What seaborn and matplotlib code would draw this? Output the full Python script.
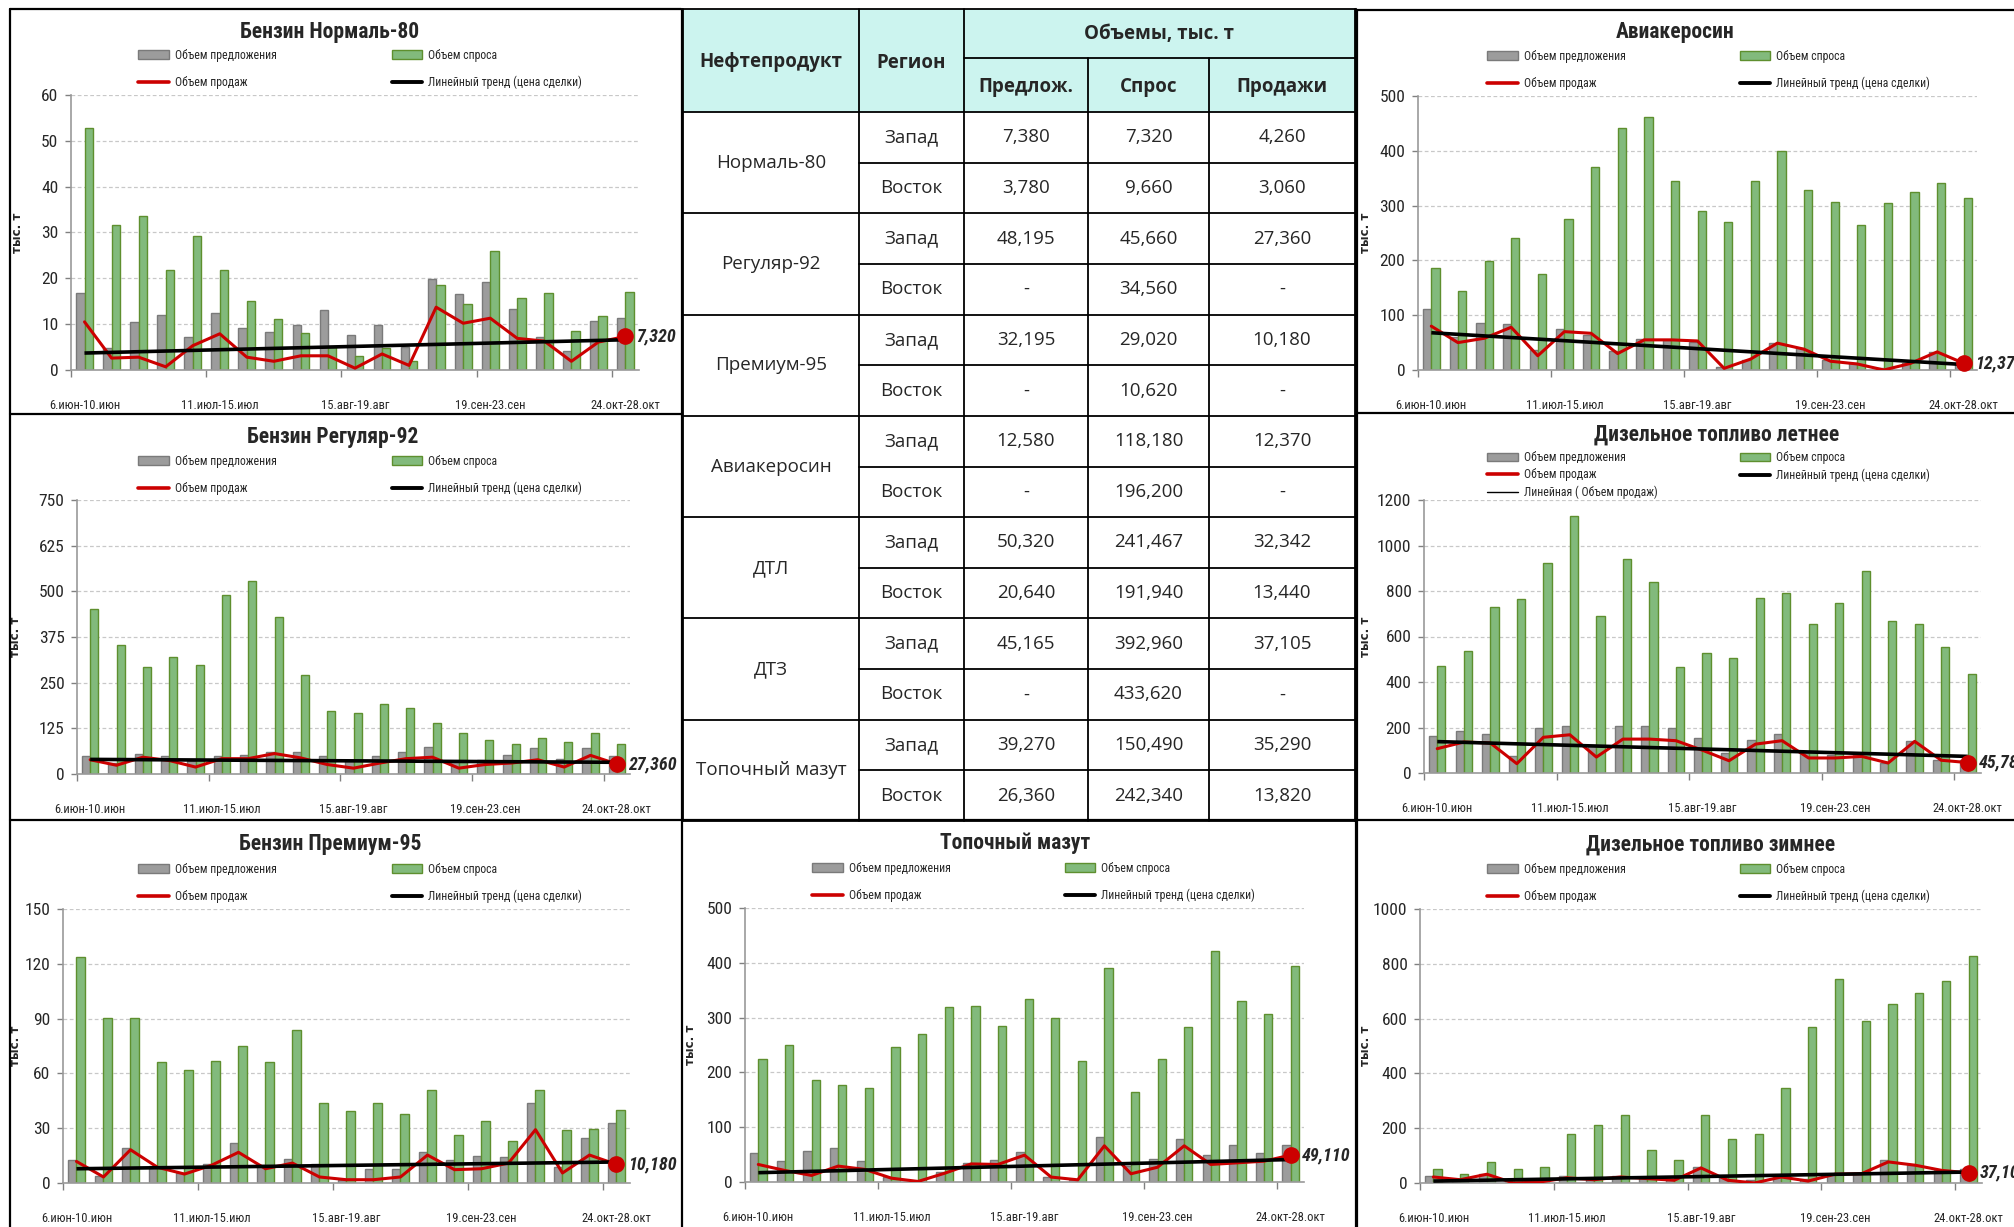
import numpy as np
import pandas as pd
import matplotlib
matplotlib.use("Agg")
import matplotlib.pyplot as plt
import seaborn as sns
from matplotlib.lines import Line2D
from matplotlib.patches import Patch, Rectangle

sns.set_theme(style="white")
plt.rcParams["font.family"] = ["Liberation Sans Narrow", "Roboto Condensed",
                               "DejaVu Sans Condensed", "Roboto", "DejaVu Sans"]
plt.rcParams["font.stretch"] = "condensed"

# ── Data ────────────────────────────────────────────────────────────────
weeks = ["6.июн-10.июн", "13.июн-17.июн", "20.июн-24.июн", "27.июн-1.июл",
         "4.июл-8.июл", "11.июл-15.июл", "18.июл-22.июл", "25.июл-29.июл",
         "1.авг-5.авг", "8.авг-12.авг", "15.авг-19.авг", "22.авг-26.авг",
         "29.авг-2.сен", "5.сен-9.сен", "12.сен-16.сен", "19.сен-23.сен",
         "26.сен-30.сен", "3.окт-7.окт", "10.окт-14.окт", "17.окт-21.окт",
         "24.окт-28.окт"]

n80_offer = [16.9, 4.8, 10.5, 11.9, 7.2, 12.5, 9.2, 8.3, 9.9, 13.0, 7.7,
             9.9, 5.0, 19.8, 16.5, 19.2, 13.2, 7.2, 4.2, 10.7, 11.3]
n80_demand = [52.8, 31.6, 33.6, 21.9, 29.2, 21.9, 15.1, 11.2, 8.0, 5.0, 3.0,
              4.8, 2.0, 18.6, 14.3, 26.0, 15.6, 16.9, 8.6, 11.8, 17.1]
n80_sales = [10.5, 2.6, 2.8, 0.7, 5.3, 7.9, 2.8, 1.9, 3.1, 3.1, 0.4,
             3.5, 1.0, 13.7, 10.2, 11.3, 6.9, 6.3, 1.9, 6.1, 7.32]
n80_trend = [3.7, 6.6]

r92_offer = [48, 30, 56, 48, 35, 48, 52, 61, 60, 48, 39,
             48, 60, 74, 35, 39, 52, 71, 41, 71, 48]
r92_demand = [452, 353, 294, 320, 298, 489, 529, 430, 272, 173, 166,
              191, 180, 139, 111, 92, 82, 99, 88, 111, 81]
r92_sales = [39, 24, 46, 37, 19, 42, 42, 56, 44, 26, 16,
             30, 42, 46, 16, 26, 30, 39, 19, 51, 27.36]
r92_trend = [40, 32]

p95_offer = [12.8, 4.0, 19.1, 9.1, 5.5, 10.4, 21.7, 10.0, 13.3, 10.4, 1.8,
             7.7, 7.7, 17.1, 12.8, 14.8, 14.2, 43.6, 9.0, 24.6, 32.6]
p95_demand = [123.6, 90.6, 90.6, 66.3, 61.8, 67.0, 75.0, 66.3, 83.8, 43.6, 39.2,
              43.6, 37.7, 50.8, 26.1, 33.9, 23.0, 50.8, 28.8, 29.5, 39.7]
p95_sales = [11.8, 3.3, 18.2, 8.6, 4.9, 9.7, 16.8, 7.8, 10.9, 3.3, 1.8,
             1.8, 3.3, 15.3, 7.3, 7.8, 10.9, 29.2, 5.5, 15.3, 10.18]
p95_trend = [7.8, 11.5]

avia_offer = [111, 61, 86, 84, 36, 74, 64, 35, 57, 55, 52,
              6, 18, 50, 40, 18, 12, 3, 12, 32, 12]
avia_demand = [187, 145, 199, 240, 175, 275, 371, 442, 461, 344, 290,
               270, 344, 400, 329, 307, 265, 304, 324, 341, 314]
avia_sales = [80, 50, 58, 78, 26, 70, 67, 30, 55, 55, 53,
              3, 20, 49, 38, 16, 11, 0, 12, 33, 12.37]
avia_trend = [68, 10]

dtl_offer = [164, 183, 171, 76, 199, 206, 124, 206, 206, 199, 152,
             88, 146, 171, 88, 80, 80, 44, 139, 59, 59]
dtl_demand = [470, 536, 729, 765, 925, 1130, 688, 942, 841, 464, 528,
              505, 770, 793, 653, 748, 888, 670, 653, 552, 435]
dtl_sales = [107, 136, 132, 41, 157, 168, 70, 149, 149, 142, 100,
             54, 127, 142, 66, 66, 73, 44, 139, 56, 45.78]
dtl_trend = [138, 73]

maz_offer = [53, 38, 57, 62, 38, 10, 1, 18, 35, 40, 55,
             10, 4, 82, 29, 42, 79, 50, 67, 53, 67]
maz_demand = [224, 250, 187, 177, 172, 246, 270, 319, 322, 285, 334,
              300, 221, 390, 165, 224, 283, 422, 330, 307, 395]
maz_sales = [32, 21, 12, 29, 23, 7, 1, 16, 33, 32, 49,
             9, 4, 66, 15, 27, 66, 32, 35, 38, 49.11]
maz_trend = [17, 41]

dtz_offer = [24, 16, 34, 10, 10, 24, 19, 24, 19, 16, 58,
             28, 10, 28, 16, 34, 34, 83, 65, 46, 52]
dtz_demand = [52, 34, 77, 52, 57, 180, 211, 250, 121, 83, 250,
              160, 180, 347, 568, 744, 592, 652, 692, 739, 828]
dtz_sales = [22, 12, 32, 0, 4, 19, 12, 22, 16, 10, 55,
             10, 0, 22, 7, 32, 34, 77, 65, 46, 37.105]
dtz_trend = [7, 40]

# summary table
tbl_products = ["Нормаль-80", "Регуляр-92", "Премиум-95", "Авиакеросин",
                "ДТЛ", "ДТЗ", "Топочный мазут"]
tbl_regions = ["Запад", "Восток"]
tbl_offer = ["7,380", "3,780", "48,195", "-", "32,195", "-", "12,580", "-",
             "50,320", "20,640", "45,165", "-", "39,270", "26,360"]
tbl_demand = ["7,320", "9,660", "45,660", "34,560", "29,020", "10,620",
              "118,180", "196,200", "241,467", "191,940", "392,960",
              "433,620", "150,490", "242,340"]
tbl_sales = ["4,260", "3,060", "27,360", "-", "10,180", "-", "12,370", "-",
             "32,342", "13,440", "37,105", "-", "35,290", "13,820"]

# ── Style ───────────────────────────────────────────────────────────────
GRAY, GRAY_EDGE = "#9C9C9C", "#7A7A7A"
GREEN, GREEN_EDGE = "#82BA7C", "#5E8F2E"
RED = "#CC0000"
W, H = 2015, 1227

fig = plt.figure(figsize=(W / 100, H / 100), dpi=100)

# background layer in pixel coordinates: panel borders + table
bg = fig.add_axes([0, 0, 1, 1])
bg.set_xlim(0, W)
bg.set_ylim(H, 0)
bg.axis("off")

for (x0, y0, x1, y1) in [(10, 9, 681, 9), (1357, 10, W, 10),
                         (10, 414, 681, 414), (1357, 413, W, 413),
                         (10, 820, W, 820), (10, 9, 10, H),
                         (682, 9, 682, H), (1356, 9, 1356, H),
                         (1357, 10, 1357, H)]:
    bg.plot([x0, x1], [y0, y1], color="black", lw=1.6)

# table geometry
cols = [683, 859, 964, 1088, 1209, 1355]
hdr_top, hdr_mid, hdr_bot, tbl_bot = 9, 58, 112, 821
n_rows = len(tbl_offer)
row_h = (tbl_bot - hdr_bot) / n_rows
tfont = ["Open Sans", "DejaVu Sans"]

bg.add_patch(Rectangle((cols[0], hdr_top), cols[-1] - cols[0], hdr_bot - hdr_top,
                       facecolor="#CCF4EF", edgecolor="none"))
lw_t = 1.3
bg.plot([cols[0], cols[-1]], [hdr_top, hdr_top], color="black", lw=lw_t)
bg.plot([cols[2], cols[-1]], [hdr_mid, hdr_mid], color="black", lw=lw_t)
bg.plot([cols[0], cols[-1]], [hdr_bot, hdr_bot], color="black", lw=lw_t)
for c in cols[:3] + [cols[-1]]:
    bg.plot([c, c], [hdr_top, tbl_bot], color="black", lw=lw_t)
for c in cols[3:5]:
    bg.plot([c, c], [hdr_mid, tbl_bot], color="black", lw=lw_t)
for i in range(1, n_rows + 1):
    y = hdr_bot + i * row_h
    x_start = cols[0] if i % 2 == 0 else cols[1]
    bg.plot([x_start, cols[-1]], [y, y], color="black", lw=lw_t)

hdr_kw = dict(ha="center", va="center", fontsize=13.5, fontweight="bold",
              family=tfont, fontstretch="normal")
bg.text((cols[0] + cols[1]) / 2, (hdr_top + hdr_bot) / 2 + 2, "Нефтепродукт", **hdr_kw)
bg.text((cols[1] + cols[2]) / 2, (hdr_top + hdr_bot) / 2 + 2, "Регион", **hdr_kw)
bg.text((cols[2] + cols[-1]) / 2, (hdr_top + hdr_mid) / 2, "Объемы, тыс. т", **hdr_kw)
for k, name in enumerate(["Предлож.", "Спрос", "Продажи"]):
    bg.text((cols[2 + k] + cols[3 + k]) / 2, (hdr_mid + hdr_bot) / 2 + 2, name, **hdr_kw)

body_kw = dict(ha="center", va="center", fontsize=13.5, family=tfont,
               fontstretch="normal")
for p, prod in enumerate(tbl_products):
    bg.text((cols[0] + cols[1]) / 2, hdr_bot + (2 * p + 1) * row_h, prod, **body_kw)
for i in range(n_rows):
    yc = hdr_bot + (i + 0.5) * row_h
    bg.text((cols[1] + cols[2]) / 2, yc, tbl_regions[i % 2], **body_kw)
    for k, vals in enumerate([tbl_offer, tbl_demand, tbl_sales]):
        bg.text((cols[2 + k] + cols[3 + k]) / 2, yc, vals[i], **body_kw)

# ── Charts ──────────────────────────────────────────────────────────────
charts = [
    dict(title="Бензин Нормаль-80", offer=n80_offer, demand=n80_demand,
         sales=n80_sales, trend=n80_trend, ymax=60, step=10,
         ax=(71, 639, 95, 370), tpos=(330, 32), leg=(138, 582, 69), ylx=24),
    dict(title="Бензин Регуляр-92", offer=r92_offer, demand=r92_demand,
         sales=r92_sales, trend=r92_trend, ymax=750, step=125,
         ax=(77, 630, 500, 774), tpos=(333, 437), leg=(138, 582, 475), ylx=22),
    dict(title="Бензин Премиум-95", offer=p95_offer, demand=p95_demand,
         sales=p95_sales, trend=p95_trend, ymax=150, step=30,
         ax=(63, 630, 909, 1183), tpos=(330, 844), leg=(138, 582, 883), ylx=22),
    dict(title="Авиакеросин", offer=avia_offer, demand=avia_demand,
         sales=avia_sales, trend=avia_trend, ymax=500, step=100,
         ax=(1418, 1977, 96, 370), tpos=(1675, 32), leg=(1487, 1930, 70), ylx=1372),
    dict(title="Дизельное топливо летнее", offer=dtl_offer, demand=dtl_demand,
         sales=dtl_sales, trend=dtl_trend, ymax=1200, step=200,
         ax=(1424, 1981, 500, 773), tpos=(1717, 435), leg=(1487, 1930, 475),
         ylx=1372, extra=True),
    dict(title="Дизельное топливо зимнее", offer=dtz_offer, demand=dtz_demand,
         sales=dtz_sales, trend=dtz_trend, ymax=1000, step=200,
         ax=(1420, 1982, 909, 1183), tpos=(1711, 845), leg=(1487, 1930, 883), ylx=1372),
    dict(title="Топочный мазут", offer=maz_offer, demand=maz_demand,
         sales=maz_sales, trend=maz_trend, ymax=500, step=100,
         ax=(745, 1304, 908, 1182), tpos=(1015, 843), leg=(812, 1255, 882), ylx=697),
]

series_names = ["Объем предложения", "Объем спроса"]
n = len(weeks)

for c in charts:
    l, r, t, b = c["ax"]
    ax = fig.add_axes([l / W, 1 - b / H, (r - l) / W, (b - t) / H])

    df = pd.DataFrame({
        "week": weeks * 2,
        "series": [series_names[0]] * n + [series_names[1]] * n,
        "value": list(c["offer"]) + list(c["demand"]),
    })
    sns.barplot(data=df, x="week", y="value", hue="series", order=weeks,
                hue_order=series_names, palette=[GRAY, GREEN], width=0.62,
                saturation=1, legend=False, linewidth=1.0, ax=ax, zorder=2)
    for cont, ec in zip(ax.containers, [GRAY_EDGE, GREEN_EDGE]):
        for bar in cont:
            bar.set_edgecolor(ec)

    xs = np.arange(n)
    sns.lineplot(x=xs, y=c["sales"], color=RED, lw=2.2, ax=ax, zorder=4)
    ax.plot([xs[0], xs[-1]], c["trend"], color="black", lw=2.6, zorder=5,
            solid_capstyle="butt")
    last = c["sales"][-1]
    ax.plot(xs[-1], last, "o", color=RED, ms=11, zorder=6, clip_on=False)
    ax.annotate(f"{last:.3f}".replace(".", ","), (xs[-1], last),
                xytext=(8, 0), textcoords="offset points", va="center",
                ha="left", fontsize=13, fontweight="bold", fontstyle="italic",
                annotation_clip=False)

    ax.set_xlim(-0.5, n - 0.5)
    ax.set_ylim(0, c["ymax"])
    ax.set_yticks(np.arange(0, c["ymax"] + 1, c["step"]))
    ax.set_xticks([-0.5, 4.5, 9.5, 14.5, 19.5])
    ax.set_xticklabels([])
    ax.set_xticks([0, 5, 10, 15, 20], minor=True)
    ax.set_xticklabels([weeks[i] for i in [0, 5, 10, 15, 20]], minor=True)
    ax.tick_params(axis="x", which="minor", length=0, pad=21, labelsize=9)
    ax.tick_params(axis="x", which="major", length=5, width=1,
                   direction="out", color="#808080", bottom=True)
    ax.tick_params(axis="y", length=4, width=1, direction="out",
                   color="#808080", left=True, pad=5, labelsize=12.5)
    ax.yaxis.grid(True, linestyle=(0, (3, 2)), color="#C8C8C8", lw=0.9)
    ax.xaxis.grid(False)
    ax.set_axisbelow(True)
    for s in ["top", "right"]:
        ax.spines[s].set_visible(False)
    for s in ["left", "bottom"]:
        ax.spines[s].set_color("#9A9A9A")
        ax.spines[s].set_linewidth(1.2)
    ax.set_xlabel("")
    ax.set_ylabel("тыс. т", fontsize=8.5, fontweight="bold",
                  family=["DejaVu Sans"], fontstretch="normal")
    ax.yaxis.set_label_coords((c["ylx"] - l) / (r - l), 0.5)

    fig.text(c["tpos"][0] / W, 1 - c["tpos"][1] / H, c["title"],
             ha="center", va="center", fontsize=15.5, fontweight="bold")

    handles = [Patch(facecolor=GRAY, edgecolor=GRAY_EDGE, label=series_names[0]),
               Line2D([], [], color=RED, lw=2.6, label="Объем продаж")]
    if c.get("extra"):
        handles.append(Line2D([], [], color="black", lw=1.0,
                              label="Линейная ( Объем продаж)"))
    handles += [Patch(facecolor=GREEN, edgecolor=GREEN_EDGE, label=series_names[1]),
                Line2D([], [], color="black", lw=2.8,
                       label="Линейный тренд (цена сделки)")]
    x0, x1, yc = c["leg"]
    ax.legend(handles=handles, ncol=2, loc="center", mode="expand",
              bbox_to_anchor=(x0 / W, 1 - yc / H, (x1 - x0) / W, 0),
              bbox_transform=fig.transFigure, frameon=False, fontsize=8.5,
              handlelength=2.6, handletextpad=0.5, borderpad=0,
              borderaxespad=0, labelspacing=0.35 if c.get("extra") else 1.2)

fig.savefig("out.png", dpi=100)
